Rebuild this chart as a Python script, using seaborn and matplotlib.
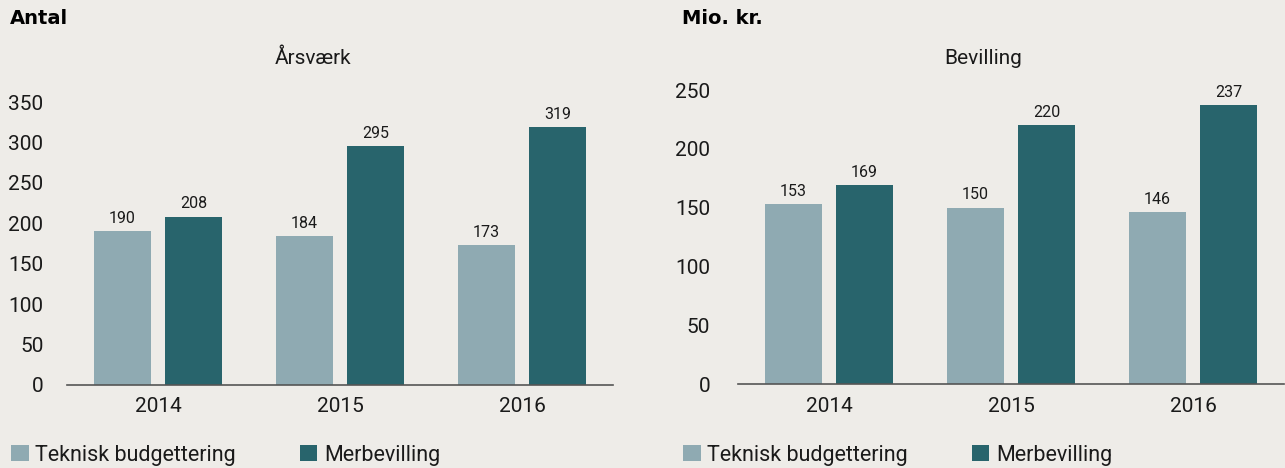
import matplotlib
matplotlib.use("Agg")
import matplotlib.pyplot as plt
import seaborn as sns
import pandas as pd
from matplotlib.patches import Patch

years = ["2014", "2015", "2016"]
series_names = ["Teknisk budgettering", "Merbevilling"]
aarsvaerk_teknisk = [190, 184, 173]
aarsvaerk_merbev = [208, 295, 319]
bevilling_teknisk = [153, 150, 146]
bevilling_merbev = [169, 220, 237]

left_ticks = [0, 50, 100, 150, 200, 250, 300, 350]
right_ticks = [0, 50, 100, 150, 200, 250]

BG = "#EEECE8"
LIGHT = "#8FAAB2"
DARK = "#28646C"
TXT = "#1a1a1a"

sns.set_theme(style="white")
plt.rcParams["font.family"] = ["Roboto", "DejaVu Sans"]

def make_df(a, b):
    return pd.DataFrame({
        "year": years * 2,
        "serie": [series_names[0]] * 3 + [series_names[1]] * 3,
        "value": list(a) + list(b),
    })

fig = plt.figure(figsize=(12.85, 4.68), dpi=100, facecolor=BG)
axL = fig.add_axes([67/1285, 1-385/468, (613-67)/1285, (385-102)/468])
axR = fig.add_axes([738/1285, 1-384/468, (1284-738)/1285, (384-90)/468])

def draw(ax, df, ticks, pad):
    ax.set_facecolor(BG)
    sns.barplot(data=df, x="year", y="value", hue="serie", hue_order=series_names,
                palette=[LIGHT, DARK], width=0.78, gap=0.21, saturation=1,
                linewidth=0, legend=False, ax=ax, errorbar=None)
    for c in ax.containers:
        ax.bar_label(c, labels=[f"{v:.0f}" for v in c.datavalues], padding=4,
                     fontsize=11.5, color=TXT)
    ax.set_ylim(0, ticks[-1])
    ax.set_yticks(ticks)
    ax.set_xlim(-0.5, 2.5)
    ax.set_xlabel("")
    ax.set_ylabel("")
    for s in ["top", "right", "left"]:
        ax.spines[s].set_visible(False)
    ax.spines["bottom"].set_color("#555555")
    ax.spines["bottom"].set_linewidth(1.2)
    ax.tick_params(axis="y", length=0, pad=pad, labelsize=15, labelcolor=TXT)
    ax.tick_params(axis="x", which="major", length=0, pad=9, labelsize=15, labelcolor=TXT)
    ax.set_xticks([-0.5, 0.5, 1.5, 2.5], minor=True)
    ax.tick_params(axis="x", which="minor", length=5, width=1, color="#555555")
    ax.grid(False)

draw(axL, make_df(aarsvaerk_teknisk, aarsvaerk_merbev), left_ticks, 17)
draw(axR, make_df(bevilling_teknisk, bevilling_merbev), right_ticks, 20)

fig.text(313/1285, 1-58/468, "Årsværk", fontsize=15, color=TXT, va="center", ha="center")
fig.text(983/1285, 1-58/468, "Bevilling", fontsize=15, color=TXT, va="center", ha="center")

fig.text(10/1285, 1-18/468, "Antal", fontsize=14, fontweight="bold", family="DejaVu Sans",
         color="black", va="center", ha="left")
fig.text(682/1285, 1-18/468, "Mio. kr.", fontsize=14, fontweight="bold", family="DejaVu Sans",
         color="black", va="center", ha="left")

handles = [Patch(facecolor=LIGHT, edgecolor="none"), Patch(facecolor=DARK, edgecolor="none")]
for x0 in (-8/1285, 664/1285):
    fig.legend(handles, series_names, loc="center left", bbox_to_anchor=(x0, 1-455/468),
               ncol=2, frameon=False, fontsize=15.5, handlelength=0.8, handleheight=0.8,
               handletextpad=0.3, columnspacing=3.0, labelcolor=TXT)

fig.savefig("out.png", dpi=100, facecolor=BG)
